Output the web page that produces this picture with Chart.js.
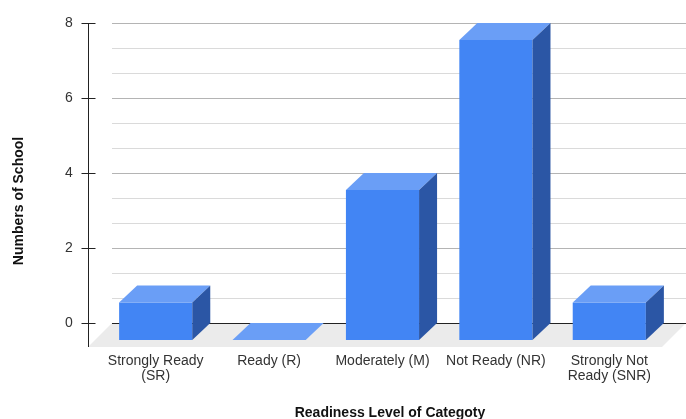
<!DOCTYPE html>
<html>
<head>
<meta charset="utf-8">
<script src="https://cdn.jsdelivr.net/npm/chart.js@4/dist/chart.umd.min.js"></script>
<style>
  html, body { margin: 0; padding: 0; background: #fff; }
  #wrap { width: 686px; height: 419px; }
</style>
</head>
<body>
<div id="wrap"><canvas id="chart" width="686" height="419"></canvas></div>
<script>
const categories = [
    ["Strongly Ready", "(SR)"],
    "Ready (R)",
    "Moderately (M)",
    "Not Ready (NR)",
    ["Strongly Not", "Ready (SNR)"]
];
const schools = [1, 0, 4, 8, 1];
const yTicks = [0, 2, 4, 6, 8];
const xTitle = "Readiness Level of Categoty";
const yTitle = "Numbers of School";

const FONT = "'Liberation Sans', Arial, sans-serif";
const dx = 18, dy = 17;      // bar depth
const floorDepth = 24;
const wallLeft = 112;

const blueFront = "#4285f4";
const blueTop = "#6a9ef6";
const blueSide = "#2b56a5";

const box3d = {
    id: "box3d",
    beforeDatasetsDraw(chart) {
        const ctx = chart.ctx;
        const y = chart.scales.y;
        const wallRight = chart.width;
        const base = y.getPixelForValue(0);

        ctx.save();
        // floor
        ctx.fillStyle = "#ebebeb";
        ctx.beginPath();
        ctx.moveTo(wallLeft, base);
        ctx.lineTo(wallRight, base);
        ctx.lineTo(wallRight - floorDepth, base + floorDepth);
        ctx.lineTo(wallLeft - floorDepth, base + floorDepth);
        ctx.closePath();
        ctx.fill();

        // back wall grid: 2 minor lines between labelled ticks
        for (let i = 1; i <= 12; i++) {
            const py = Math.round(y.getPixelForValue(i * 2 / 3)) + 0.5;
            ctx.strokeStyle = i % 3 === 0 ? "#b4b4b4" : "#dadada";
            ctx.lineWidth = 1;
            ctx.beginPath();
            ctx.moveTo(wallLeft, py);
            ctx.lineTo(wallRight, py);
            ctx.stroke();
        }
        ctx.strokeStyle = "#222";
        ctx.beginPath();
        ctx.moveTo(wallLeft, Math.round(base) + 0.5);
        ctx.lineTo(wallRight, Math.round(base) + 0.5);
        ctx.stroke();

        // y axis at front left corner
        const ax = wallLeft - floorDepth + 0.5;
        ctx.strokeStyle = "#222";
        ctx.beginPath();
        ctx.moveTo(ax, y.getPixelForValue(8));
        ctx.lineTo(ax, base + floorDepth);
        ctx.stroke();
        yTicks.forEach(function(v) {
            const py = Math.round(y.getPixelForValue(v)) + 0.5;
            ctx.beginPath();
            ctx.moveTo(ax - 7, py);
            ctx.lineTo(ax + 7, py);
            ctx.stroke();
        });
        ctx.restore();

        ctx.save();
        ctx.translate(0, dy);
    },
    afterDatasetsDraw(chart) {
        const ctx = chart.ctx;
        ctx.restore();
        ctx.save();
        chart.getDatasetMeta(0).data.forEach(function(bar) {
            const p = bar.getProps(["x", "y", "base", "width"], true);
            const l = p.x - p.width / 2, r = p.x + p.width / 2;
            const t = p.y + dy, b = p.base + dy;
            ctx.fillStyle = blueTop;
            ctx.beginPath();
            ctx.moveTo(l, t);
            ctx.lineTo(r, t);
            ctx.lineTo(r + dx, t - dy);
            ctx.lineTo(l + dx, t - dy);
            ctx.closePath();
            ctx.fill();
            if (b - t > 0.5) {
                ctx.fillStyle = blueSide;
                ctx.beginPath();
                ctx.moveTo(r, t);
                ctx.lineTo(r + dx, t - dy);
                ctx.lineTo(r + dx, b - dy);
                ctx.lineTo(r, b);
                ctx.closePath();
                ctx.fill();
            }
        });

        // axis titles
        ctx.fillStyle = "#111";
        ctx.font = "bold 14px " + FONT;
        ctx.textAlign = "center";
        ctx.textBaseline = "middle";
        ctx.fillText(xTitle, 390, 413);
        ctx.translate(19, 201);
        ctx.rotate(-Math.PI / 2);
        ctx.fillText(yTitle, 0, 0);
        ctx.restore();
    }
};

new Chart(document.getElementById("chart"), {
    type: "bar",
    data: {
        labels: categories,
        datasets: [{
            data: schools,
            backgroundColor: blueFront,
            borderWidth: 0,
            categoryPercentage: 1,
            barPercentage: 0.645,
            clip: false
        }]
    },
    options: {
        responsive: false,
        animation: false,
        layout: { padding: { top: 23, right: 20, left: 65, bottom: 0 } },
        plugins: { legend: { display: false }, tooltip: { enabled: false } },
        scales: {
            x: {
                grid: { display: false, drawTicks: false },
                border: { display: false },
                ticks: {
                    color: "#333",
                    font: { family: FONT, size: 14, lineHeight: 1.05 },
                    padding: 31,
                    maxRotation: 0,
                    autoSkip: false
                },
                afterFit: function(scale) { scale.height = 96; }
            },
            y: {
                min: 0,
                max: 8,
                grid: { display: false, drawTicks: false },
                border: { display: false },
                ticks: {
                    stepSize: 2,
                    color: "#333",
                    font: { family: FONT, size: 14 },
                    padding: 0,
                    crossAlign: "far"
                },
                afterFit: function(scale) { scale.width = 34; }
            }
        }
    },
    plugins: [box3d]
});
</script>
</body>
</html>
